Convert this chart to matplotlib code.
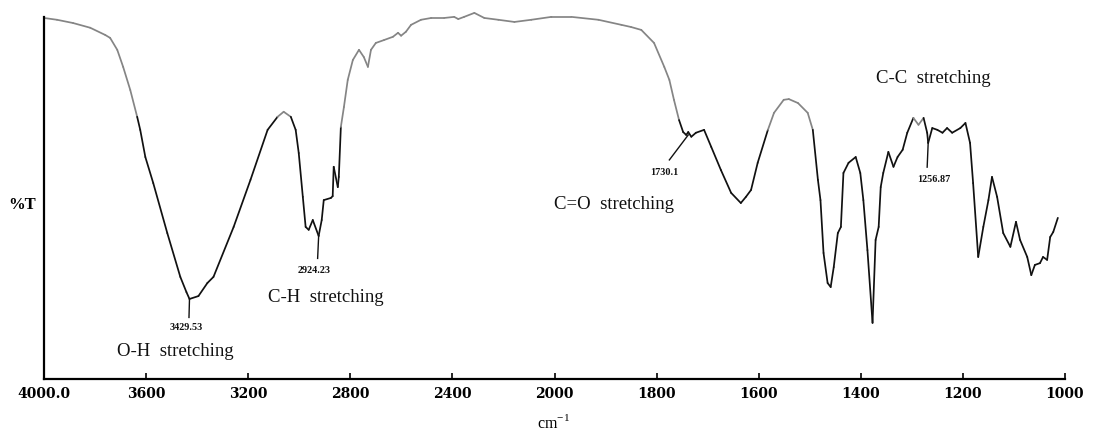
import numpy as np
import matplotlib
matplotlib.use("Agg")
import matplotlib.pyplot as plt
from matplotlib.collections import LineCollection

# ---- data (wavenumber in cm-1, transmittance in arbitrary %T units) ----
wavenumber = [4000, 3949, 3886, 3819, 3760, 3741, 3713, 3690, 3662, 3635,
              3623, 3603, 3572, 3517, 3466, 3442, 3430, 3395, 3360, 3336,
              3257, 3191, 3124, 3085, 3061, 3033, 3014, 3002, 2986, 2975,
              2963, 2947, 2924, 2912, 2904, 2876, 2869, 2865, 2849, 2845,
              2837, 2825, 2810, 2790, 2766, 2747, 2731, 2719, 2700, 2668,
              2633, 2613, 2601, 2582, 2562, 2523, 2483, 2432, 2393, 2377,
              2354, 2314, 2275, 2220, 2157, 2091, 2012, 1967, 1914, 1869,
              1850, 1830, 1805, 1785, 1775, 1766, 1756, 1748, 1742, 1738,
              1732, 1723, 1707, 1693, 1674, 1654, 1635, 1625, 1615, 1602,
              1582, 1570, 1551, 1541, 1523, 1504, 1494, 1484, 1479, 1473,
              1465, 1459, 1453, 1445, 1439, 1434, 1424, 1410, 1401, 1395,
              1387, 1377, 1371, 1365, 1361, 1356, 1346, 1336, 1328, 1318,
              1309, 1297, 1287, 1277, 1270, 1268, 1260, 1250, 1240, 1231,
              1221, 1205, 1195, 1186, 1180, 1170, 1160, 1150, 1143, 1133,
              1121, 1107, 1096, 1088, 1074, 1066, 1059, 1049, 1043, 1035,
              1029, 1023, 1014]
transmittance = [99.7, 99.2, 98.3, 97.0, 95.0, 94.2, 90.9, 86.2, 79.8, 72.4,
                 68.8, 61.3, 54.1, 40.3, 28.2, 24.0, 22.1, 22.9, 26.5, 28.2,
                 42.0, 55.0, 68.8, 72.4, 73.8, 72.4, 68.8, 62.4, 50.3, 42.0,
                 41.2, 43.9, 39.5, 43.9, 49.4, 50.0, 50.5, 58.6, 53.0, 55.8,
                 69.6, 75.1, 82.6, 88.1, 90.9, 88.9, 86.2, 90.9, 92.8, 93.6,
                 94.5, 95.6, 94.8, 95.9, 97.8, 99.2, 99.7, 99.7, 100.0, 99.4,
                 100.0, 101.1, 99.7, 99.2, 98.6, 99.2, 100.0, 100.0, 99.2, 97.8,
                 97.2, 96.4, 92.8, 86.2, 82.6, 77.1, 71.5, 68.2, 67.4, 68.2,
                 66.9, 68.0, 68.8, 64.1, 57.7, 51.4, 48.6, 50.3, 52.2, 59.7,
                 68.8, 73.5, 77.1, 77.3, 76.2, 73.5, 68.8, 55.0, 49.4, 34.8,
                 26.5, 25.4, 30.9, 40.3, 42.0, 56.9, 59.7, 61.3, 56.9, 49.4,
                 35.6, 15.5, 38.4, 42.0, 53.0, 56.9, 62.7, 58.6, 61.3, 63.3,
                 68.0, 72.1, 70.2, 72.1, 68.0, 65.2, 69.3, 68.8, 68.0, 69.3,
                 68.0, 69.3, 70.7, 65.2, 54.1, 33.7, 42.0, 49.4, 55.8, 50.3,
                 40.3, 36.5, 43.4, 38.4, 33.7, 28.7, 31.5, 32.0, 33.7, 32.9,
                 39.2, 40.6, 44.5]

tick_values = [4000, 3600, 3200, 2800, 2400, 2000, 1800, 1600, 1400, 1200, 1000]
tick_labels = ["4000.0", "3600", "3200", "2800", "2400", "2000", "1800",
               "1600", "1400", "1200", "1000"]

# peak annotations
peak_labels = ["3429.53", "2924.23", "1730.1", "1256.87"]
peak_x = [3430, 2924, 1738, 1268]
peak_y = [22.1, 39.5, 67.4, 65.2]
peak_text_x = [3442, 2940, 1785, 1258]
peak_text_y = [14.2, 30.0, 57.0, 55.0]
lead_end_x = [3432, 2928, 1775, 1270]
lead_end_y = [17.0, 33.3, 60.5, 58.5]

group_labels = ["O-H  stretching", "C-H  stretching", "C=O  stretching", "C-C  stretching"]
group_x = [3485, 2896, 1883, 1258]
group_y = [7.5, 22.4, 48.3, 83.1]

# ---- piecewise-linear wavenumber scale (scale change at 2000 cm-1) ----
def fwd(x):
    x = np.asarray(x, dtype=float)
    return np.where(x <= 2000, (x - 1000) / 1000.0, 1 + (x - 2000) / 2000.0)

def inv(g):
    g = np.asarray(g, dtype=float)
    return np.where(g <= 1, 1000 + 1000 * g, 2000 + 2000 * (g - 1))

fig = plt.figure(figsize=(10.93, 4.34), dpi=100)
ax = fig.add_axes([44 / 1093, 1 - 379 / 434, (1065 - 44) / 1093, (379 - 10) / 434])
ax.set_xscale("function", functions=(fwd, inv))
ax.set_xlim(4000, 1000)
ax.set_ylim(0, 101.9)

# spectrum line: grey where transmittance is high, black where low (as in the scan)
xs = np.array(wavenumber, dtype=float)
ys = np.array(transmittance, dtype=float)
pts = np.column_stack([xs, ys]).reshape(-1, 1, 2)
segs = np.concatenate([pts[:-1], pts[1:]], axis=1)
mid = (ys[:-1] + ys[1:]) / 2
cols = ["#858585" if m > 71 else "#111111" for m in mid]
lc = LineCollection(segs, colors=cols, linewidths=1.25, capstyle="round",
                    joinstyle="round", clip_on=False)
ax.add_collection(lc)

for sp in ["top", "right"]:
    ax.spines[sp].set_visible(False)
ax.spines["left"].set_bounds(0, 100)
ax.spines["left"].set_linewidth(1.6)
ax.spines["bottom"].set_linewidth(1.6)
ax.set_yticks([])
ax.set_xticks(tick_values)
ax.set_xticklabels(tick_labels, fontfamily="DejaVu Serif", fontweight="bold", fontsize=10)
ax.xaxis.set_minor_locator(matplotlib.ticker.NullLocator())
ax.tick_params(axis="x", direction="in", length=4, width=1.2, pad=6)

for lab, px, py, tx, ty, ex, ey in zip(peak_labels, peak_x, peak_y, peak_text_x,
                                       peak_text_y, lead_end_x, lead_end_y):
    ax.plot([px, ex], [py, ey], color="#111111", lw=1.0)
    ax.text(tx, ty, lab, ha="center", va="center", fontsize=7.3,
            fontfamily="Liberation Serif", fontweight="bold", color="#111111")

for lab, gx, gy in zip(group_labels, group_x, group_y):
    ax.text(gx, gy, lab, ha="center", va="center", fontsize=13.5,
            fontfamily="Liberation Serif", color="#111111")

fig.text(22 / 1093, 1 - 205 / 434, "%T", ha="center", va="center",
         fontsize=12, fontfamily="Liberation Serif", fontweight="bold")
fig.text(553 / 1093, 1 - 423 / 434, "cm$^{\\mathregular{-1}}$", ha="center", va="center",
         fontsize=11.5, fontfamily="Liberation Serif")

fig.savefig("out.png", dpi=100, facecolor="white")
